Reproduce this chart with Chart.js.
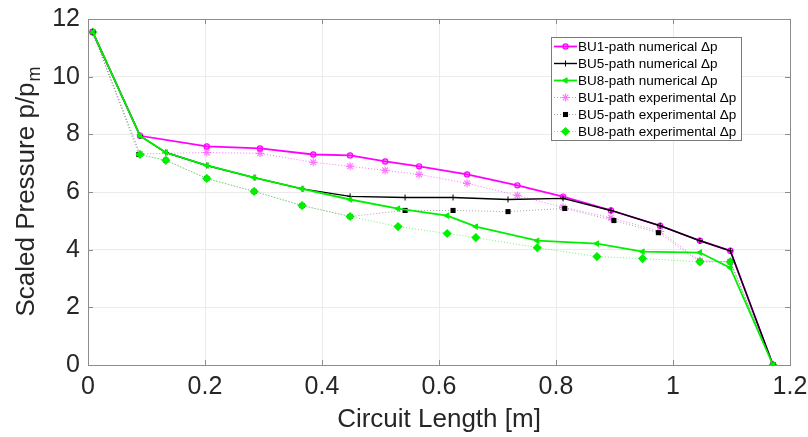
<!DOCTYPE html>
<html>
<head>
<meta charset="utf-8">
<script src="https://cdn.jsdelivr.net/npm/chart.js@4.4.0/dist/chart.umd.min.js"></script>
<style>
  html, body { margin: 0; padding: 0; background: #fff; }
  #wrap { width: 808px; height: 437px; position: relative; }
</style>
</head>
<body>
<div id="wrap"><canvas id="chart"></canvas></div>
<script>
// ── Data ──────────────────────────────────────────────────────────────────────
const xBU1 = [0.008, 0.089, 0.203, 0.294, 0.385, 0.448, 0.508, 0.566, 0.648, 0.734, 0.812, 0.894, 0.978, 1.046, 1.098, 1.171];
const bu1Num = [11.55, 7.95, 7.58, 7.51, 7.30, 7.27, 7.06, 6.89, 6.61, 6.23, 5.84, 5.36, 4.83, 4.31, 3.96, 0];
const bu1Exp = [11.55, 7.32, 7.37, 7.34, 7.03, 6.89, 6.75, 6.61, 6.30, 5.88, 5.47, 5.11, 4.63, 3.62, 3.58, 0];

const xBU5Num = [0.008, 0.089, 0.133, 0.203, 0.284, 0.366, 0.448, 0.542, 0.624, 0.718, 0.812, 0.894, 0.978, 1.046, 1.098, 1.171];
const bu5Num = [11.55, 7.95, 7.37, 6.92, 6.50, 6.11, 5.85, 5.81, 5.81, 5.74, 5.78, 5.36, 4.83, 4.31, 3.96, 0];
const xBU5Exp = [0.008, 0.087, 0.133, 0.203, 0.284, 0.366, 0.448, 0.542, 0.624, 0.718, 0.815, 0.899, 0.975, 1.046, 1.098, 1.171];
const bu5Exp = [11.55, 7.30, 7.10, 6.47, 6.02, 5.53, 5.15, 5.36, 5.36, 5.32, 5.43, 5.01, 4.59, 3.58, 3.58, 0];

const xBU8 = [0.008, 0.089, 0.133, 0.203, 0.284, 0.366, 0.448, 0.530, 0.614, 0.663, 0.768, 0.870, 0.948, 1.046, 1.098, 1.171];
const bu8Num = [11.55, 7.95, 7.37, 6.92, 6.50, 6.11, 5.74, 5.42, 5.18, 4.80, 4.31, 4.21, 3.93, 3.90, 3.37, 0];
const bu8Exp = [11.55, 7.30, 7.10, 6.47, 6.02, 5.53, 5.15, 4.80, 4.56, 4.42, 4.07, 3.76, 3.69, 3.58, 3.58, 0];

const xTicks = [0, 0.2, 0.4, 0.6, 0.8, 1, 1.2];
const yTicks = [0, 2, 4, 6, 8, 10, 12];

const X_TITLE = 'Circuit Length [m]';
const Y_TITLE = 'Scaled Pressure p/p';
const Y_TITLE_SUB = 'm';

// ── Style ─────────────────────────────────────────────────────────────────────
const FONT = "'Liberation Sans', Arial, sans-serif";
const TEXT = '#262626';
const FRAME = '#8c8c8c';
const GRID = '#ebebeb';
const MAGENTA = '#ff00ff';
const GREEN = '#00f000';

function _toXY(xArr, yArr) {
  return xArr.map((x, i) => ({ x, y: yArr[i] }));
}

const datasets = [
  {
    label: 'BU1-path numerical \u0394p',
    data: _toXY(xBU1, bu1Num),
    borderColor: MAGENTA, backgroundColor: MAGENTA, borderWidth: 1.8,
    pointStyle: 'circle', pointRadius: 2.6, pointBorderWidth: 1.2,
    pointBackgroundColor: 'rgba(255,0,255,0.35)',
    order: 3,
  },
  {
    label: 'BU5-path numerical \u0394p',
    data: _toXY(xBU5Num, bu5Num),
    borderColor: '#000', backgroundColor: '#000', borderWidth: 1.4,
    pointStyle: 'cross', pointRadius: 3, pointBorderWidth: 1,
    order: 2,
  },
  {
    label: 'BU8-path numerical \u0394p',
    data: _toXY(xBU8, bu8Num),
    borderColor: GREEN, backgroundColor: GREEN, borderWidth: 1.8,
    pointStyle: 'triangle', rotation: 270, pointRadius: 3.2, pointBorderWidth: 1,
    order: 1,
  },
  {
    label: 'BU1-path experimental \u0394p',
    data: _toXY(xBU1, bu1Exp),
    borderColor: 'rgba(255,0,255,0.55)', backgroundColor: 'rgba(255,80,255,0.9)', borderWidth: 1,
    borderDash: [1, 2],
    pointStyle: 'star', pointRadius: 4, pointBorderWidth: 1.2,
    pointBorderColor: 'rgba(255,80,255,0.75)',
    order: 6,
  },
  {
    label: 'BU5-path experimental \u0394p',
    data: _toXY(xBU5Exp, bu5Exp),
    borderColor: 'rgba(0,0,0,0.35)', backgroundColor: '#000', borderWidth: 1,
    borderDash: [1, 2],
    pointStyle: 'rect', pointRadius: 3.6, pointBorderWidth: 0,
    pointBorderColor: '#000',
    order: 5,
  },
  {
    label: 'BU8-path experimental \u0394p',
    data: _toXY(xBU8, bu8Exp),
    borderColor: 'rgba(0,230,0,0.55)', backgroundColor: GREEN, borderWidth: 1,
    borderDash: [1, 2],
    pointStyle: 'rectRot', pointRadius: 4.6, pointBorderWidth: 0,
    pointBorderColor: GREEN,
    order: 4,
  },
];

// ── Plugins: MATLAB-style frame, inner ticks, y title, boxed legend ──────────
const framePlugin = {
  id: 'frame',
  afterDatasetsDraw(chart) {
    const { ctx, chartArea: a, scales } = chart;
    ctx.save();
    ctx.strokeStyle = FRAME;
    ctx.lineWidth = 1;
    ctx.strokeRect(Math.round(a.left) + 0.5, Math.round(a.top) + 0.5,
      Math.round(a.right - a.left), Math.round(a.bottom - a.top));
    const tl = 5;
    ctx.beginPath();
    xTicks.forEach(v => {
      const px = Math.round(scales.x.getPixelForValue(v)) + 0.5;
      ctx.moveTo(px, a.bottom); ctx.lineTo(px, a.bottom - tl);
      ctx.moveTo(px, a.top); ctx.lineTo(px, a.top + tl);
    });
    yTicks.forEach(v => {
      const py = Math.round(scales.y.getPixelForValue(v)) + 0.5;
      ctx.moveTo(a.left, py); ctx.lineTo(a.left + tl, py);
      ctx.moveTo(a.right, py); ctx.lineTo(a.right - tl, py);
    });
    ctx.stroke();

    // y title with subscript m
    ctx.translate(25, (a.top + a.bottom) / 2);
    ctx.rotate(-Math.PI / 2);
    ctx.fillStyle = TEXT;
    ctx.textBaseline = 'alphabetic';
    ctx.font = `26px ${FONT}`;
    const w1 = ctx.measureText(Y_TITLE).width;
    ctx.font = `18px ${FONT}`;
    const w2 = ctx.measureText(Y_TITLE_SUB).width;
    const start = -(w1 + w2) / 2;
    ctx.font = `26px ${FONT}`;
    ctx.textAlign = 'left';
    ctx.fillText(Y_TITLE, start, 9);
    ctx.font = `18px ${FONT}`;
    ctx.fillText(Y_TITLE_SUB, start + w1 + 1, 15);
    ctx.restore();
  },
};

const legendPlugin = {
  id: 'boxLegend',
  afterDraw(chart) {
    const { ctx } = chart;
    const box = { x: 551, y: 37, w: 190, h: 103 };
    const rowH = 17;
    ctx.save();
    ctx.fillStyle = '#fff';
    ctx.fillRect(box.x, box.y, box.w, box.h);
    ctx.strokeStyle = '#7a7a7a';
    ctx.lineWidth = 1;
    ctx.strokeRect(box.x + 0.5, box.y + 0.5, box.w, box.h);
    ctx.font = `13.5px ${FONT}`;
    ctx.textBaseline = 'middle';
    ctx.textAlign = 'left';
    chart.data.datasets.forEach((ds, i) => {
      const cy = box.y + 9.5 + i * rowH;
      const x0 = box.x + 3, x1 = box.x + 26, cx = (x0 + x1) / 2;
      ctx.save();
      ctx.strokeStyle = ds.borderColor;
      ctx.lineWidth = ds.borderWidth;
      ctx.setLineDash(ds.borderDash || []);
      ctx.beginPath();
      ctx.moveTo(x0, cy); ctx.lineTo(x1, cy);
      ctx.stroke();
      ctx.setLineDash([]);
      ctx.fillStyle = ds.pointBackgroundColor || ds.backgroundColor;
      ctx.strokeStyle = ds.pointBorderColor || ds.borderColor;
      ctx.lineWidth = ds.pointBorderWidth;
      Chart.helpers.drawPoint(ctx, {
        pointStyle: ds.pointStyle, radius: ds.pointRadius,
        rotation: ds.rotation || 0, borderWidth: ds.pointBorderWidth,
      }, cx, cy);
      ctx.restore();
      ctx.fillStyle = '#000';
      ctx.fillText(ds.label, box.x + 27, cy + 1);
    });
    ctx.restore();
  },
};

// ── Chart ─────────────────────────────────────────────────────────────────────
const ctx = document.getElementById('chart').getContext('2d');
new Chart(ctx, {
  type: 'scatter',
  data: { datasets: datasets.map(d => ({ ...d, showLine: true, tension: 0 })) },
  options: {
    responsive: true,
    maintainAspectRatio: false,
    animation: false,
    events: [],
    layout: { padding: { left: 0, right: 18, top: 19, bottom: 0 } },
    plugins: { legend: { display: false }, tooltip: { enabled: false } },
    scales: {
      x: {
        type: 'linear', min: 0, max: 1.2,
        afterBuildTicks: s => { s.ticks = xTicks.map(v => ({ value: v })); },
        afterFit: s => { s.height = 72; s.paddingRight = 0; s.paddingLeft = 0; },
        grid: { color: GRID, drawTicks: false },
        border: { display: false },
        ticks: {
          color: TEXT, font: { family: FONT, size: 25 }, padding: 7,
          maxRotation: 0, autoSkip: false,
          callback: v => String(+v.toFixed(1)),
        },
        title: {
          display: true, text: X_TITLE, color: TEXT,
          font: { family: FONT, size: 26 }, padding: { top: 0, bottom: 2 },
        },
      },
      y: {
        type: 'linear', min: 0, max: 12,
        afterBuildTicks: s => { s.ticks = yTicks.map(v => ({ value: v })); },
        afterFit: s => { s.width = 88; s.paddingTop = 0; s.paddingBottom = 0; },
        grid: { color: GRID, drawTicks: false },
        border: { display: false },
        ticks: {
          color: TEXT, font: { family: FONT, size: 25 }, padding: 8,
          autoSkip: false,
          callback: v => String(v),
        },
      },
    },
  },
  plugins: [framePlugin, legendPlugin],
});
</script>
</body>
</html>
